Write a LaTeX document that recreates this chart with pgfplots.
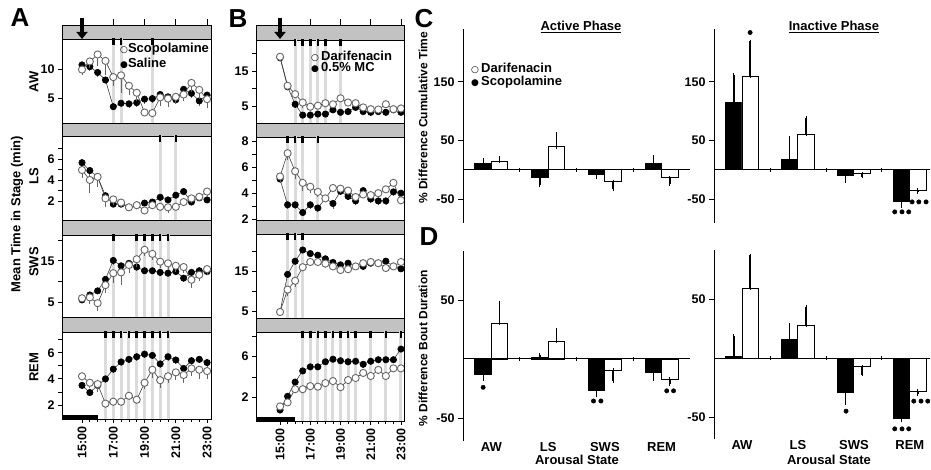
\documentclass[border=0pt]{standalone}
\usepackage{fontspec}
\setmainfont{Liberation Sans}
\newfontfamily\symfont{DejaVu Sans}
\usepackage{pgfplots}
\usepackage{pgfplotstable}
\pgfplotsset{compat=1.18}
\usetikzlibrary{arrows.meta}

\definecolor{bandgray}{gray}{0.76}
\definecolor{siggray}{gray}{0.86}
\definecolor{opengray}{gray}{0.40}
\definecolor{linegray}{gray}{0.25}

\newcommand{\tk}{\fontsize{12.5}{13}\selectfont}
\newcommand{\lab}{\fontsize{13}{14}\selectfont}
\newcommand{\osym}{{\symfont\fontsize{9}{9}\selectfont ○}}
\newcommand{\fsym}{{\symfont\fontsize{9}{9}\selectfont ●}}

% columns: t, open circles (scopolamine / darifenacin) + sem, filled (saline / 0.5% MC) + sem
\pgfplotstableread{
t    o     oe   f     fe
15   9.9   1.0  10.7  0.6
15.5 11.3  1.2  10.4  0.8
16   12.5  2.0  9.4   0.8
16.5 11.4  2.5  8.1   0.6
17   8.6   1.5  3.5   0.5
17.5 8.9   3.0  4.1   0.6
18   7.1   1.5  4.0   0.8
18.5 5.9   1.5  4.2   0.8
19   2.5   0.5  4.8   0.8
19.5 2.4   0.5  4.9   0.8
20   5.1   1.5  5.6   0.8
20.5 4.9   1.5  5.2   1.0
21   5.2   1.2  4.7   0.8
21.5 5.6   1.2  6.5   0.8
22   7.6   1.5  5.8   0.8
22.5 6.4   1.5  4.5   0.8
23   4.8   1.5  5.5   1.0
}\AAW
\pgfplotstableread{
t    o     oe   f     fe
15   4.95  0.8  5.65  0.4
15.5 4.0   1.2  4.9   0.5
16   4.3   1.0  4.3   0.3
16.5 2.25  0.8  2.5   0.3
17   2.15  0.5  1.7   0.2
17.5 1.85  0.4  1.7   0.2
18   1.4   0.3  1.4   0.2
18.5 1.6   0.3  1.6   0.2
19   1.1   0.3  1.8   0.2
19.5 1.6   0.4  1.9   0.3
20   1.45  0.4  2.35  0.3
20.5 1.4   0.5  2.1   0.3
21   1.45  0.3  2.55  0.3
21.5 1.9   0.3  2.9   0.3
22   2.25  0.4  1.9   0.3
22.5 2.4   0.3  2.3   0.3
23   2.9   0.4  2.1   0.3
}\ALS
\pgfplotstableread{
t    o     oe   f     fe
15   5.9   1.0  5.5   0.5
15.5 6.1   1.5  6.7   0.5
16   4.7   2.0  7.7   0.8
16.5 9.1   2.0  10.5  1.0
17   12.0  2.5  15.1  1.0
17.5 12.2  3.0  13.8  1.0
18   14.0  2.0  14.4  1.0
18.5 15.4  2.0  13.5  1.0
19   17.7  1.5  12.6  0.8
19.5 16.7  1.5  12.6  0.8
20   14.8  1.5  12.2  0.8
20.5 14.4  1.5  12.0  0.8
21   13.8  1.5  12.4  0.8
21.5 13.5  1.5  10.8  1.0
22   10.4  2.0  12.2  0.8
22.5 11.6  1.5  12.6  0.8
23   13.0  1.5  12.4  0.8
}\ASWS
\pgfplotstableread{
t    o     oe   f     fe
15   4.2   0.3  3.5   0.3
15.5 3.7   0.4  2.95  0.3
16   3.6   0.6  3.5   0.3
16.5 2.1   0.3  4.0   0.3
17   2.25  0.3  4.75  0.3
17.5 2.25  0.3  5.3   0.3
18   2.7   0.3  5.5   0.3
18.5 2.4   0.3  5.7   0.3
19   3.7   0.5  5.9   0.3
19.5 4.7   0.6  5.8   0.3
20   3.9   0.6  5.15  0.3
20.5 4.2   0.5  5.7   0.3
21   4.5   0.6  5.45  0.3
21.5 4.3   0.6  4.8   0.3
22   4.8   0.6  5.4   0.3
22.5 4.7   0.7  5.5   0.3
23   4.6   0.6  5.25  0.3
}\AREM
\pgfplotstableread{
t    o     oe   f     fe
15   19.1  1.0  18.8  1.0
15.5 10.8  1.0  10.5  1.0
16   8.4   1.0  5.5   1.0
16.5 6.0   1.5  2.4   0.5
17   4.8   1.0  2.4   0.5
17.5 5.1   1.0  2.7   0.5
18   5.8   1.0  2.7   0.5
18.5 5.5   1.0  3.9   0.5
19   7.2   1.0  3.2   0.5
19.5 6.0   1.0  3.4   0.5
20   5.8   1.0  4.6   0.5
20.5 4.6   1.0  3.4   0.5
21   4.1   1.0  3.2   0.5
21.5 4.0   1.0  3.4   0.5
22   5.5   1.0  3.2   0.5
22.5 4.1   1.0  3.9   0.5
23   4.3   1.0  3.2   0.5
}\BAW
\pgfplotstableread{
t    o     oe   f     fe
15   5.3   0.4  5.1   0.3
15.5 7.1   0.5  3.1   0.3
16   5.7   0.6  3.1   0.3
16.5 4.8   0.6  2.5   0.3
17   4.5   0.5  3.1   0.3
17.5 4.1   0.4  2.85  0.3
18   3.6   0.3  3.6   0.3
18.5 4.4   0.3  3.2   0.4
19   4.35  0.3  4.15  0.3
19.5 4.2   0.3  3.75  0.3
20   3.7   0.3  3.4   0.3
20.5 3.9   0.3  4.2   0.3
21   3.85  0.3  3.55  0.3
21.5 4.0   0.3  3.4   0.3
22   4.3   0.3  3.4   0.3
22.5 4.8   0.3  4.1   0.3
23   3.45  0.3  4.0   0.3
}\BLS
\pgfplotstableread{
t    o     oe   f     fe
15   4.9   0.5  4.9   0.5
15.5 10.5  1.5  14.3  1.0
16   12.7  1.5  17.6  1.0
16.5 16.1  1.0  20.4  0.8
17   17.4  1.0  19.5  0.8
17.5 17.4  1.0  19.1  0.8
18   17.0  1.0  18.2  0.8
18.5 16.3  1.0  17.3  0.8
19   15.4  1.0  16.7  0.8
19.5 15.6  1.0  17.1  0.8
20   16.3  1.0  16.3  0.8
20.5 17.1  1.0  16.3  0.8
21   17.4  1.0  17.1  0.8
21.5 17.1  1.0  17.1  0.8
22   15.9  1.0  17.6  0.8
22.5 16.3  1.0  16.3  0.8
23   17.4  1.0  15.7  0.8
}\BSWS
\pgfplotstableread{
t    o     oe   f     fe
15   1.1   0.2  0.75  0.2
15.5 1.5   0.3  2.1   0.3
16   2.8   0.3  3.5   0.3
16.5 2.8   0.3  4.6   0.3
17   3.1   0.3  5.0   0.3
17.5 3.05  0.3  5.0   0.3
18   3.4   0.3  5.5   0.3
18.5 3.6   0.3  5.75  0.3
19   3.0   0.3  5.6   0.3
19.5 3.7   0.3  5.5   0.3
20   3.9   0.3  5.55  0.3
20.5 4.4   0.3  5.25  0.3
21   4.1   0.3  5.55  0.3
21.5 4.7   0.3  5.7   0.3
22   4.1   0.3  5.7   0.3
22.5 4.85  0.3  5.7   0.3
23   4.85  0.3  6.75  0.3
}\BREM

\pgfplotsset{
  base/.style={scale only axis, anchor=south west,
    axis line style={line width=0.8pt}, tick style={black, line width=0.8pt},
    tick align=outside, tick pos=left, major tick length=4pt,
    ticklabel style={font=\bfseries\tk},
    /pgf/number format/assume math mode=true,
    axis background/.style={fill=white}},
  colA/.style={base, width=149pt, xmin=13.72, xmax=23.25},
  colB/.style={base, width=148pt, xmin=13.41, xmax=23.2},
  band/.style={ymin=0, ymax=1, ytick=\empty, xtick=\empty,
    axis background/.style={fill=bandgray}},
  topband/.style={band, xtick={15,17,...,23}, xticklabels={}, tick pos=right, major tick length=6pt},
  ts/.style={xtick={15,15.5,...,23}, xticklabels={}, major tick length=4pt,
    clip marker paths=true},
  rem/.style={xtick={15,17,...,23}, minor xtick={15.5,16,...,22.5},
    xticklabels={15:00,17:00,19:00,21:00,23:00},
    xticklabel style={rotate=90, anchor=east}, clip marker paths=true},
  barax/.style={scale only axis, anchor=south west, axis lines=left,
    axis line style={-, line width=0.9pt}, x axis line style={draw=none},
    xmin=-0.5, tick align=outside, major tick length=5pt,
    ytick style={black, line width=0.9pt}, xtick style={draw=none},
    ticklabel style={font=\bfseries\tk}},
  catlabels/.style={xtick={0,1,2,3}, xticklabels={AW,LS,SWS,REM},
    xticklabel style={font=\bfseries\lab, yshift=7pt}},
}

% significance: grey lines through the panel and black marks at its top
\newcommand{\sigs}[2]{%
  \pgfplotsinvokeforeach{#1}{\addplot[siggray, line width=3pt, forget plot] coordinates {(##1,-50) (##1,100)};}
  \pgfplotsinvokeforeach{#1}{\addplot[black, only marks, mark=|, mark size=6pt, mark options={line width=2.5pt}, forget plot] coordinates {(##1,#2)};}
}
\newcommand{\series}[1]{%
  \addplot[linegray, line width=0.6pt, mark=*, mark size=3.2pt, mark options={black, fill=black},
    error bars/.cd, y dir=minus, y explicit, error mark=none,
    error bar style={opengray, line width=0.7pt}] table[x=t, y=f, y error=fe] {#1};
  \addplot[linegray, line width=0.6pt, mark=*, mark size=3.6pt, mark options={draw=opengray, fill=white, line width=0.9pt},
    error bars/.cd, y dir=minus, y explicit, error mark=none,
    error bar style={opengray, line width=0.7pt}] table[x=t, y=o, y error=oe] {#1};
}
% black bars sit at k-0.145, white bars at k+0.145
\newcommand{\bars}[2]{%
  \addplot[ybar, bar width=0.29, bar shift=0, fill=black, draw=black, line width=0.9pt,
    error bars/.cd, y dir=both, y explicit, error mark=-,
    error mark options={black, mark size=1.8pt, line width=1pt},
    error bar style={black, line width=1.3pt}] coordinates {#1};
  \addplot[ybar, bar width=0.29, bar shift=0, fill=white, draw=black, line width=0.9pt,
    error bars/.cd, y dir=both, y explicit, error mark=-,
    error mark options={black, mark size=1.8pt, line width=1pt},
    error bar style={black, line width=1.3pt}] coordinates {#2};
}
\newcommand{\zeroline}{%
  \addplot[black, line width=1pt, forget plot] coordinates {(-0.5,0) (3.5,0)};
  \addplot[black, only marks, mark=|, mark size=2pt, mark options={line width=0.8pt}] coordinates {(0.5,0) (1.5,0) (2.5,0)};
}

\begin{document}
\begin{tikzpicture}[font=\bfseries]
\useasboundingbox (0,0) rectangle (931pt,469pt);

% ---------------- A ----------------
\begin{axis}[colA, topband, at={(62pt,430pt)}, height=14pt]
\end{axis}
\begin{axis}[colA, ts, at={(62pt,346pt)}, height=84pt, ymin=0.69, ymax=15.17, ytick={5,10}]
\sigs{17,17.5,19.5}{15.17}
\series{\AAW}
\end{axis}
\begin{axis}[colA, band, at={(62pt,333pt)}, height=13pt]\end{axis}
\begin{axis}[colA, ts, at={(62pt,249pt)}, height=84pt, ymin=0.19, ymax=8.19, ytick={2,...,7}, yticklabels={2,,4,,6,}]
\sigs{20,21}{8.19}
\series{\ALS}
\end{axis}
\begin{axis}[colA, band, at={(62pt,234pt)}, height=15pt]\end{axis}
\begin{axis}[colA, ts, at={(62pt,152pt)}, height=82pt, ymin=1.34, ymax=21.3, ytick={5,10,15,20}, yticklabels={5,,15,}]
\sigs{17,18.5,19,19.5,20,20.5}{21.3}
\series{\ASWS}
\end{axis}
\begin{axis}[colA, band, at={(62pt,137pt)}, height=15pt]\end{axis}
\begin{axis}[colA, rem, at={(62pt,50pt)}, height=87pt, ymin=0.92, ymax=7.6, ytick={2,...,7}, yticklabels={2,,4,,6,}]
\sigs{16.5,17,17.5,18,18.5,19,19.5,20,20.5}{7.6}
\series{\AREM}
\addplot[black, line width=7pt, forget plot] coordinates {(13.72,0.92) (16,0.92)};
\end{axis}

% ---------------- B ----------------
\begin{axis}[colB, topband, at={(256pt,429pt)}, height=15pt]
\end{axis}
\begin{axis}[colB, ts, at={(256pt,346pt)}, height=83pt, ymin=0.14, ymax=23.9, ytick={5,10,15,20}, yticklabels={5,,15,}]
\sigs{16,16.5,17,17.5,18,19}{23.9}
\series{\BAW}
\end{axis}
\begin{axis}[colB, band, at={(256pt,332pt)}, height=14pt]\end{axis}
\begin{axis}[colB, ts, at={(256pt,249pt)}, height=83pt, ymin=1.92, ymax=8.36, ytick={2,...,8}, yticklabels={2,,4,,6,,8}]
\sigs{15.5,16,16.5,17.5}{8.36}
\series{\BLS}
\end{axis}
\begin{axis}[colB, band, at={(256pt,235pt)}, height=14pt]\end{axis}
\begin{axis}[colB, ts, at={(256pt,151pt)}, height=84pt, ymin=3.4, ymax=24.4, ytick={5,10,15,20}, yticklabels={5,,15,}]
\sigs{15.5,16,16.5}{24.4}
\series{\BSWS}
\end{axis}
\begin{axis}[colB, band, at={(256pt,137pt)}, height=14pt]\end{axis}
\begin{axis}[colB, rem, at={(256pt,48pt)}, height=89pt, ymin=-0.33, ymax=8.43, ytick={2,4,6,8}, yticklabels={2,,6,}]
\sigs{16.5,17,17.5,18,18.5,19,19.5,20,21,22,23}{8.43}
\series{\BREM}
\addplot[black, line width=7pt, forget plot] coordinates {(13.41,-0.33) (16,-0.33)};
\end{axis}

% ---------------- C ----------------
\begin{axis}[barax, at={(463pt,246pt)}, width=227pt, height=194pt, xmax=3.5,
  ymin=-91, ymax=240, ytick={-50,50,150}, yticklabels={-50,50,150}, xtick=\empty]
\bars{(-0.145,10) += (0,7) -= (0,0) (0.855,-14) += (0,0) -= (0,13) (1.855,-8) += (0,0) -= (0,5) (2.855,10) += (0,12) -= (0,0)}
     {(0.145,14) += (0,6) -= (0,0) (1.145,39) += (0,22) -= (0,0) (2.145,-20) += (0,0) -= (0,13) (3.145,-14) += (0,0) -= (0,11)}
\zeroline
\end{axis}
\begin{axis}[barax, at={(714pt,246pt)}, width=216pt, height=194pt, xmax=3.36,
  ymin=-91, ymax=240, ytick={-50,50,150}, yticklabels={-50,50,150}, xtick=\empty]
\bars{(-0.145,114) += (0,48) -= (0,0) (0.855,17) += (0,38) -= (0,0) (1.855,-10) += (0,0) -= (0,9) (2.855,-55) += (0,0) -= (0,7)}
     {(0.145,159) += (0,60) -= (0,0) (1.145,60) += (0,28) -= (0,0) (2.145,-7) += (0,0) -= (0,5) (3.145,-35) += (0,0) -= (0,3)}
\zeroline
\addplot[black, only marks, mark=*, mark size=2.2pt] coordinates {(0.145,234) (2.73,-72) (2.86,-72) (2.98,-72) (3.04,-55) (3.16,-55) (3.29,-55)};
\end{axis}

% ---------------- D ----------------
\begin{axis}[barax, catlabels, at={(463pt,28pt)}, width=227pt, height=190pt, xmax=3.5,
  ymin=-69.5, ymax=91.5, ytick={-50,50}, yticklabels={-50,50}]
\bars{(-0.145,-13.5) += (0,0) -= (0,3.5) (0.855,1) += (0,2.5) -= (0,0) (1.855,-27) += (0,0) -= (0,4) (2.855,-11) += (0,0) -= (0,6)}
     {(0.145,30.5) += (0,17.5) -= (0,0) (1.145,15) += (0,10) -= (0,0) (2.145,-9.5) += (0,0) -= (0,9.5) (3.145,-17) += (0,0) -= (0,4)}
\zeroline
\addplot[black, only marks, mark=*, mark size=2.2pt] coordinates {(-0.145,-24) (1.80,-35.6) (1.93,-35.6) (3.09,-27) (3.21,-27)};
\end{axis}
\begin{axis}[barax, catlabels, at={(714pt,30pt)}, width=216pt, height=189pt, xmax=3.36,
  ymin=-68.6, ymax=91.5, ytick={-50,50}, yticklabels={-50,50}]
\bars{(-0.145,1.5) += (0,17.5) -= (0,0) (0.855,16) += (0,12) -= (0,0) (1.855,-29) += (0,0) -= (0,9) (2.855,-51) += (0,0) -= (0,2)}
     {(0.145,59) += (0,28) -= (0,0) (1.145,28) += (0,15) -= (0,0) (2.145,-7.5) += (0,0) -= (0,6.5) (3.145,-28) += (0,0) -= (0,2.5)}
\zeroline
\addplot[black, only marks, mark=*, mark size=2.2pt] coordinates {(1.86,-45) (2.73,-60) (2.86,-60) (2.98,-60) (3.07,-36.5) (3.2,-36.5) (3.32,-36.5)};
\end{axis}

% ---------------- arrows (drug administration) ----------------
\draw[line width=4pt, -{Triangle[length=7pt, width=11pt]}] (82pt,451pt) -- (82pt,430pt);
\draw[line width=4pt, -{Triangle[length=7pt, width=11pt]}] (280pt,451pt) -- (280pt,430pt);

% ---------------- text ----------------
\node[font=\bfseries\fontsize{26}{26}\selectfont] at (20pt,451pt) {A};
\node[font=\bfseries\fontsize{26}{26}\selectfont] at (238pt,450pt) {B};
\node[font=\bfseries\fontsize{26}{26}\selectfont] at (424pt,450pt) {C};
\node[font=\bfseries\fontsize{26}{26}\selectfont] at (429pt,232pt) {D};

\node[font=\bfseries\lab, rotate=90] at (17pt,255pt) {Mean Time in Stage (min)};
\node[font=\bfseries\lab, rotate=90] at (34pt,387pt) {AW};
\node[font=\bfseries\lab, rotate=90] at (34pt,293pt) {LS};
\node[font=\bfseries\lab, rotate=90] at (34pt,207pt) {SWS};
\node[font=\bfseries\lab, rotate=90] at (34pt,102pt) {REM};

\node[font=\bfseries\lab, anchor=west, inner sep=0pt] at (120pt,420pt) {\osym Scopolamine};
\node[font=\bfseries\lab, anchor=west, inner sep=0pt] at (120pt,406pt) {\fsym Saline};
\node[font=\bfseries\lab, anchor=west, inner sep=0pt] at (311pt,413pt) {\osym\,Darifenacin};
\node[font=\bfseries\lab, anchor=west, inner sep=0pt] at (311pt,401pt) {\fsym\,0.5\% MC};

\node[font=\bfseries\lab, anchor=west, inner sep=0pt] at (471pt,401pt) {\osym\,Darifenacin};
\node[font=\bfseries\lab, anchor=west, inner sep=0pt] at (471pt,387pt) {\fsym\,Scopolamine};

\node[font=\bfseries\lab] at (581pt,442pt) {\underline{Active Phase}};
\node[font=\bfseries\lab] at (834pt,442pt) {\underline{Inactive Phase}};

\node[font=\bfseries\fontsize{12}{13}\selectfont, rotate=90] at (423pt,351pt) {\% Difference Cumulative Time};
\node[font=\bfseries\fontsize{12}{13}\selectfont, rotate=90] at (423pt,121pt) {\% Difference Bout Duration};

\node[font=\bfseries\lab] at (577pt,9pt) {Arousal State};
\node[font=\bfseries\lab] at (829pt,9pt) {Arousal State};
\end{tikzpicture}
\end{document}
